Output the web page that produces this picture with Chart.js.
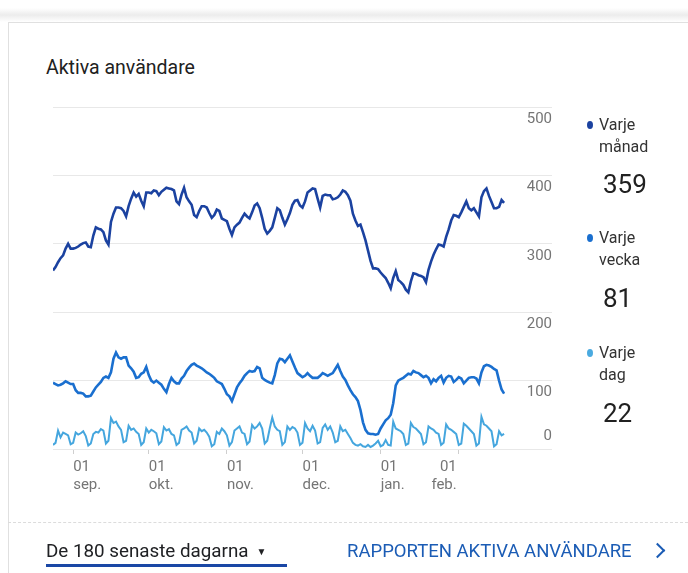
<!DOCTYPE html>
<html><head><meta charset="utf-8">
<script src="https://cdn.jsdelivr.net/npm/chart.js@4.4.1/dist/chart.umd.min.js"></script>
<style>
html,body{margin:0;padding:0;background:#fff;}
body{width:688px;height:573px;position:relative;overflow:hidden;font-family:Roboto,"Noto Sans",sans-serif;}
#topband{position:absolute;left:0;top:8px;width:688px;height:14px;background:linear-gradient(#fff,#ececec,#fff);}
#card{position:absolute;left:8px;top:22px;width:700px;height:600px;border-left:1px solid #e0e0e0;border-top:1px solid #e0e0e0;}
#title{position:absolute;left:46px;top:56px;font-size:19.5px;color:#212121;line-height:24px;white-space:nowrap;}
canvas{position:absolute;left:0;top:0;}
.dot{position:absolute;width:6px;height:8px;border-radius:50%;}
.lab{position:absolute;font-size:16px;line-height:22px;color:#333;}
.num{position:absolute;font-size:26px;line-height:30px;color:#212121;}
#sep{position:absolute;left:8px;top:522px;width:680px;border-top:1px dashed #dcdcdc;}
#range{position:absolute;left:46px;top:540px;font-size:18.8px;line-height:22px;color:#202124;white-space:nowrap;}
#range span{font-size:10px;margin-left:8px;vertical-align:2px;}
#uline{position:absolute;left:46px;top:564px;width:241px;height:3px;background:#1a47a5;}
#link{position:absolute;left:347px;top:540px;font-size:18.5px;line-height:22px;color:#1b5cb5;white-space:nowrap;}
#chev{position:absolute;left:652px;top:545px;width:9px;height:9px;border-right:2.5px solid #1b5cb5;border-top:2.5px solid #1b5cb5;transform:rotate(45deg);}
</style>
</head><body>
<div id="topband"></div>
<div id="card"></div>
<div id="title">Aktiva användare</div>
<canvas id="c" width="688" height="573"></canvas>

<div class="dot" style="left:587px;top:121px;background:#1b42a0"></div>
<div class="lab" style="left:599px;top:114px">Varje<br>månad</div>
<div class="num" style="left:603px;top:169px">359</div>
<div class="dot" style="left:587px;top:234px;background:#1a6fcf"></div>
<div class="lab" style="left:599px;top:227px">Varje<br>vecka</div>
<div class="num" style="left:603px;top:283px">81</div>
<div class="dot" style="left:587px;top:349px;background:#4aaae0"></div>
<div class="lab" style="left:599px;top:342px">Varje<br>dag</div>
<div class="num" style="left:603px;top:398px">22</div>

<div id="sep"></div>
<div id="range">De 180 senaste dagarna<span>▼</span></div>
<div id="uline"></div>
<div id="link">RAPPORTEN AKTIVA ANVÄNDARE</div>
<div id="chev"></div>

<script>
// Day index 0 = 24 Aug, 179 = 19 Feb (180 days)
const monthTickIndex = [8, 38, 69, 99, 130, 161];
const monthTickDay = ['01', '01', '01', '01', '01', '01'];
const monthTickName = ['sep.', 'okt.', 'nov.', 'dec.', 'jan.', 'feb.'];
const yTickValues = [0, 100, 200, 300, 400, 500];

const monthly = [
261,266,273,279,283,293,300,293,293,294,
296,299,301,302,296,295,312,324,322,321,
317,305,299,332,344,353,353,352,348,340,
355,366,375,369,373,363,355,375,375,374,
378,377,371,376,379,382,381,380,378,362,
358,372,382,368,362,357,342,339,348,355,
355,353,345,338,342,350,348,337,335,333,
322,313,324,328,331,338,344,340,337,346,
356,359,352,338,322,315,319,324,338,352,
349,338,328,336,345,357,363,364,356,353,
362,375,378,381,380,366,353,370,372,371,
371,365,366,368,372,378,376,371,363,344,
334,326,328,317,305,290,275,264,264,263,
258,254,250,243,235,250,260,247,244,240,
233,229,245,257,256,254,253,251,244,262,
274,284,292,299,298,296,310,321,334,342,
341,339,346,354,362,352,349,352,346,340,
368,377,381,370,361,352,352,354,364,360];

const weekly = [
97,95,93,94,96,99,97,95,95,86,
82,82,81,77,77,78,84,90,94,98,
104,106,104,112,132,141,134,132,134,134,
122,118,113,104,105,110,112,120,108,100,
97,100,97,94,88,83,95,104,99,96,
96,103,107,114,119,123,125,122,120,118,
115,112,110,107,104,99,97,95,88,80,
77,70,80,90,96,101,107,111,114,113,
114,120,118,104,101,99,97,96,108,125,
132,131,127,132,137,128,119,111,108,105,
107,111,107,104,104,104,107,111,109,107,
109,111,117,123,114,106,101,93,86,80,
76,70,57,39,28,23,22,22,21,22,
30,36,42,45,50,67,93,100,102,104,
107,110,109,114,112,111,108,105,107,104,
96,102,99,104,107,97,104,107,106,98,
101,105,103,96,100,104,105,105,103,96,
112,121,123,122,120,117,115,100,87,81];

const daily = [
6,9,27,17,24,22,20,
7,9,24,21,23,26,19,
5,8,22,25,24,29,27,
8,12,45,38,40,33,28,
10,12,34,28,30,25,22,
6,10,30,24,28,26,23,
7,11,32,27,29,22,20,
6,9,28,30,33,27,24,
8,12,30,26,28,24,18,
4,7,25,22,30,26,20,
5,10,27,30,33,24,22,
7,11,35,30,33,38,30,
8,12,30,46,33,28,26,
6,10,33,28,32,30,24,
6,9,38,30,26,34,27,
8,10,31,36,28,33,24,
10,12,33,26,28,22,16,
9,6,5,7,4,3,6,
3,5,8,12,4,6,13,
6,5,40,30,28,26,22,
6,8,38,32,30,26,22,
7,10,33,30,28,24,22,
6,9,36,30,28,25,22,
6,8,37,34,30,26,22,
5,8,47,36,34,30,26,
4,7,26,20,22];

const toXY = arr => arr.map((v, i) => ({x: i, y: v}));

const labelPlugin = {
  id: 'gaLabels',
  afterDraw(chart) {
    const ctx = chart.ctx;
    const xs = chart.scales.x, ys = chart.scales.y;
    ctx.save();
    ctx.font = '15px Roboto, "Noto Sans", sans-serif';
    ctx.fillStyle = '#757575';
    ctx.textBaseline = 'middle';
    ctx.textAlign = 'right';
    yTickValues.forEach(v => {
      const py = ys.getPixelForValue(v);
      ctx.fillText(String(v), chart.chartArea.right, v === 0 ? py - 13 : py + 12);
    });
    monthTickIndex.forEach((idx, k) => {
      const px = xs.getPixelForValue(idx);
      const last = k === monthTickIndex.length - 1;
      ctx.textAlign = last ? 'right' : 'left';
      const tx = last ? px - 2 : px;
      ctx.fillText(monthTickDay[k], tx, chart.chartArea.bottom + 18);
      ctx.fillText(monthTickName[k], tx, chart.chartArea.bottom + 36);
    });
    ctx.restore();
  }
};

new Chart(document.getElementById('c'), {
  type: 'line',
  data: {
    datasets: [
      {label: 'Varje månad', data: toXY(monthly), borderColor: '#1b42a0', borderWidth: 2.6, pointRadius: 0, tension: 0, order: 1},
      {label: 'Varje vecka', data: toXY(weekly), borderColor: '#1a6fcf', borderWidth: 2.6, pointRadius: 0, tension: 0, order: 2},
      {label: 'Varje dag', data: toXY(daily), borderColor: '#45a6de', borderWidth: 2, pointRadius: 0, tension: 0, order: 3}
    ]
  },
  options: {
    responsive: false,
    animation: false,
    devicePixelRatio: 1,
    layout: {padding: {left: 53, right: 136, top: 107, bottom: 119}},
    plugins: {legend: {display: false}, tooltip: {enabled: false}},
    scales: {
      x: {
        type: 'linear', min: 0, max: 198,
        afterBuildTicks: s => { s.ticks = monthTickIndex.map(v => ({value: v})); },
        ticks: {display: false},
        grid: {drawOnChartArea: false, drawTicks: true, tickLength: 5, color: '#cfcfcf'},
        border: {display: false}
      },
      y: {
        position: 'right', min: 0, max: 500,
        afterBuildTicks: s => { s.ticks = yTickValues.map(v => ({value: v})); },
        ticks: {display: false},
        grid: {drawTicks: false, color: '#e8e8e8', lineWidth: 1},
        border: {display: false}
      }
    }
  },
  plugins: [labelPlugin]
});
</script>
</body></html>
